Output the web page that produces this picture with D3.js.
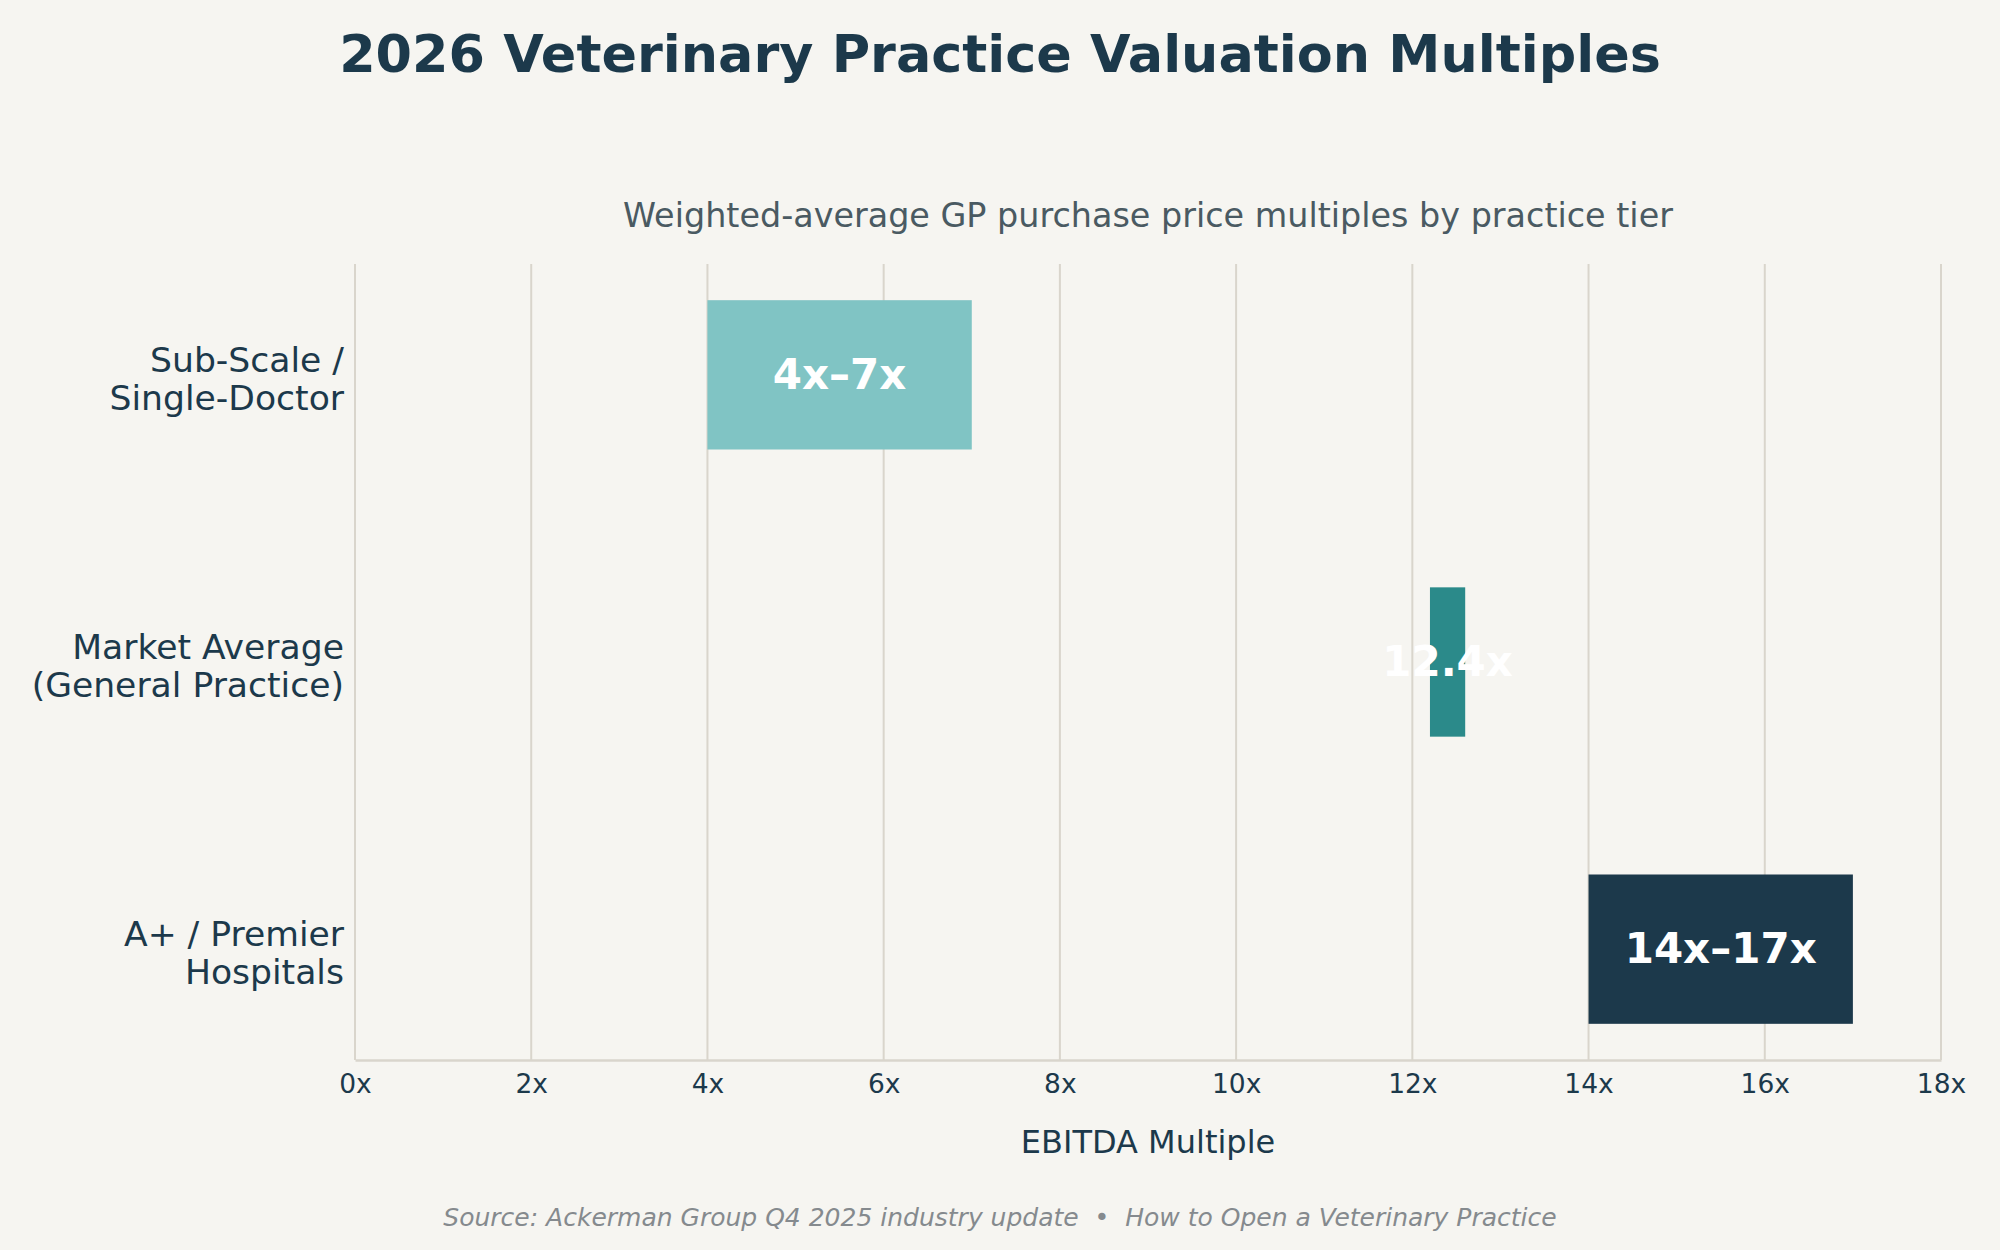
<!DOCTYPE html>
<html><head><meta charset="utf-8">
<script src="https://cdn.jsdelivr.net/npm/d3@7"></script>
<style>body{margin:0;background:#f6f5f1;} svg{display:block;}</style>
</head><body>
<svg id="chart" width="2000" height="1250"></svg>
<script>
const categories = [["Sub-Scale /","Single-Doctor"],["Market Average","(General Practice)"],["A+ / Premier","Hospitals"]];
const lowValues = [4, 12.2, 14];
const highValues = [7, 12.6, 17];
const barLabels = ["4x\u20137x","12.4x","14x\u201317x"];
const tickValues = [0,2,4,6,8,10,12,14,16,18];
const colors = ["#80c4c4","#2b8a8a","#1c394b"];

const svg = d3.select("#chart");
const W=2000,H=1250, L=355, R=1941, T=264, B=1060;
const font = "DejaVu Sans, sans-serif";
svg.append("rect").attr("width",W).attr("height",H).attr("fill","#f6f5f1");

const x = d3.scaleLinear().domain([0,18]).range([L,R]);
const bh = 0.52, pad = (2+bh)*0.05 + bh/2;
const y = d3.scaleLinear().domain([-pad, 2+pad]).range([T,B]);

// grid
svg.append("g").selectAll("line").data(tickValues).join("line")
  .attr("x1",d=>x(d)).attr("x2",d=>x(d)).attr("y1",T).attr("y2",B)
  .attr("stroke","#d9d5cc").attr("stroke-width",2);

// bars
svg.append("g").selectAll("rect").data(categories).join("rect")
  .attr("x",(d,i)=>x(lowValues[i])).attr("width",(d,i)=>x(highValues[i])-x(lowValues[i]))
  .attr("y",(d,i)=>y(i-bh/2)).attr("height",(d,i)=>y(i+bh/2)-y(i-bh/2))
  .attr("fill",(d,i)=>colors[i]);

// bar labels
svg.append("g").selectAll("text").data(barLabels).join("text")
  .attr("x",(d,i)=>x((lowValues[i]+highValues[i])/2)).attr("y",(d,i)=>y(i))
  .attr("dy","0.33em").attr("text-anchor","middle")
  .attr("font-family",font).attr("font-weight","bold").attr("font-size",42)
  .attr("fill","#ffffff").text(d=>d);

// x axis
const xAxis = d3.axisBottom(x).tickValues(tickValues).tickFormat(d=>d+"x").tickSize(0).tickPadding(14);
const gx = svg.append("g").attr("transform",`translate(0,${B})`).call(xAxis);
gx.select(".domain").attr("stroke","#d9d5cc").attr("stroke-width",2.5);
gx.selectAll("text").attr("font-family",font).attr("font-size",26.5).attr("fill","#1c394b");

// y labels
const yl = svg.append("g").selectAll("text").data(categories).join("text")
  .attr("x",344).attr("y",(d,i)=>y(i)).attr("text-anchor","end")
  .attr("font-family",font).attr("font-size",34.6).attr("fill","#1c394b");
yl.each(function(d,i){
  const t=d3.select(this);
  d.forEach((line,j)=>{
    t.append("tspan").attr("x",344).attr("y",y(i)+ (j===0?-3:35)).text(line);
  });
});

// axis label
svg.append("text").attr("x",(L+R)/2).attr("y",1141).attr("dy","0.36em").attr("text-anchor","middle")
  .attr("font-family",font).attr("font-size",32).attr("fill","#1c394b").text("EBITDA Multiple");

// title
svg.append("text").attr("x",1000).attr("y",53).attr("dy","0.36em").attr("text-anchor","middle")
  .attr("font-family",font).attr("font-weight","bold").attr("font-size",52.4).attr("fill","#1c394b")
  .text("2026 Veterinary Practice Valuation Multiples");

// subtitle
svg.append("text").attr("x",(L+R)/2).attr("y",215).attr("dy","0.36em").attr("text-anchor","middle")
  .attr("font-family",font).attr("font-size",33.4).attr("fill","#4a5a62")
  .text("Weighted-average GP purchase price multiples by practice tier");

// source
svg.append("text").attr("x",1000).attr("y",1217).attr("dy","0.36em").attr("text-anchor","middle")
  .attr("font-family",font).attr("font-style","italic").attr("font-size",25).attr("fill","#858a8e")
  .text("Source: Ackerman Group Q4 2025 industry update \u00a0\u2022\u00a0 How to Open a Veterinary Practice");
</script>
</body></html>
